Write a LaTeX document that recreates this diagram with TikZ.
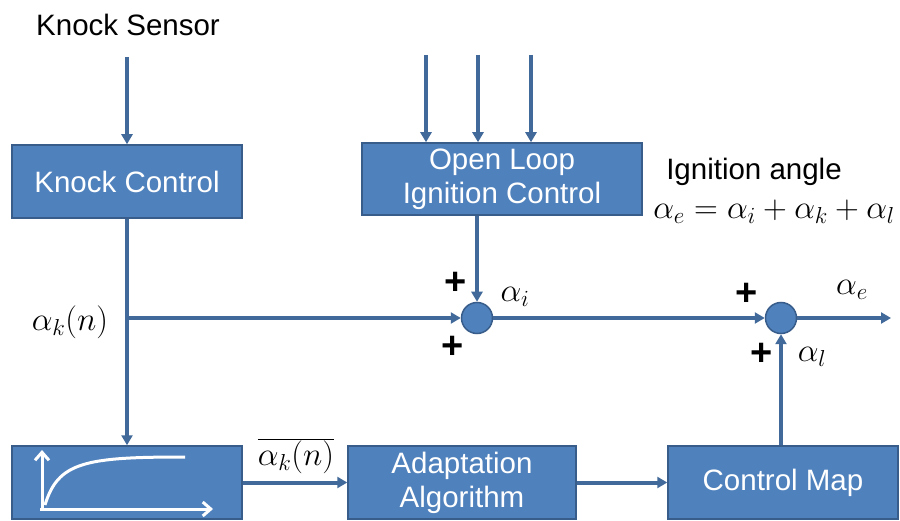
\documentclass[tikz,border=0pt]{standalone}
\usepackage{fix-cm}
\usepackage{fontspec}
\setmainfont{Liberation Sans}
\usetikzlibrary{arrows.meta}
\definecolor{boxfill}{HTML}{4F81BD}
\definecolor{boxline}{HTML}{385D8A}
\definecolor{wire}{HTML}{41699A}
\tikzset{
  blockbox/.style={draw=boxline, line width=1.5pt, fill=boxfill, text=white, align=center,
    font=\fontsize{29.5}{34}\selectfont, inner sep=0pt, minimum height=73pt},
  sumnode/.style={circle, draw=boxline, line width=1.5pt, fill=boxfill, minimum size=31pt, inner sep=0pt},
  wirearrow/.style={draw=wire, line width=4pt, -{Triangle[length=10pt,width=11pt]}},
  lbl/.style={font=\fontsize{29.5}{34}\selectfont, inner sep=0pt},
  mlbl/.style={font=\fontsize{33}{38}\selectfont, inner sep=0pt},
  plus/.style={font=\fontsize{38}{40}\selectfont\bfseries, inner sep=0pt}
}
\begin{document}
\begin{tikzpicture}[x=1pt,y=-1pt]
\useasboundingbox[fill=white] (0,0) rectangle (900,521);
% boxes
\node[blockbox, minimum width=230pt] (kc) at (127,181.5) {Knock Control};
\node[blockbox, minimum width=280pt, minimum height=72pt] (ol) at (502,179) {Open Loop\\Ignition Control};
\node[blockbox, minimum width=230pt] (fb) at (127,482.5) {};
\node[blockbox, minimum width=228pt] (aa) at (462,482.5) {Adaptation\\Algorithm};
\node[blockbox, minimum width=230pt] (cm) at (783,482.5) {Control Map};
\node[sumnode] (s1) at (477,318) {};
\node[sumnode] (s2) at (781,318) {};
% filter icon
\draw[white, line width=3pt, -{Straight Barb[length=8pt,width=14pt]}] (42,510) -- (42,450);
\draw[white, line width=3pt, -{Straight Barb[length=8pt,width=14pt]}] (40,509) -- (213,509);
\draw[white, line width=3pt] (45,505) .. controls (58,462) and (85,457) .. (185,457);
% texts
\node[lbl] (ks) at (128,25) {Knock Sensor};
\node[lbl] (ia) at (754,172) {Ignition angle};
\node[mlbl] (eq) at (774,212) {$\alpha_e=\alpha_i+\alpha_k+\alpha_l$};
\node[mlbl] (lk) at (70,322) {$\alpha_k(n)$};
\node[mlbl] (lkb) at (296,456) {$\overline{\alpha_k(n)}$};
\node[mlbl] (li) at (515,297) {$\alpha_i$};
\node[mlbl] (le) at (852,290) {$\alpha_e$};
\node[mlbl] (ll) at (812,357) {$\alpha_l$};
\node[plus] (p1) at (456,283) {+};
\node[plus] (p2) at (453,347) {+};
\node[plus] (p3) at (747,294) {+};
\node[plus] (p4) at (762,354) {+};
% coordinates
\coordinate (ksin) at (127,57);
\coordinate (i1) at (426,55);
\coordinate (i2) at (478,55);
\coordinate (i3) at (531,55);
\coordinate (j) at (127,318);
\coordinate (out) at (891,318);
% connectors
\draw[wirearrow] (ksin) -- (kc.north);
\draw[wirearrow] (i1) -- (i1 |- ol.north);
\draw[wirearrow] (i2) -- (i2 |- ol.north);
\draw[wirearrow] (i3) -- (i3 |- ol.north);
\draw[wirearrow] (kc.south) -- (fb.north);
\draw[wirearrow] (j) -- (s1.west);
\draw[wirearrow] (s1 |- ol.south) -- (s1.north);
\draw[wirearrow] (s1.east) -- (s2.west);
\draw[wirearrow] (s2.east) -- (out);
\draw[wirearrow] (s2 |- cm.north) -- (s2.south);
\draw[wirearrow] (fb.east) -- (aa.west);
\draw[wirearrow] (aa.east) -- (cm.west);
\end{tikzpicture}
\end{document}
